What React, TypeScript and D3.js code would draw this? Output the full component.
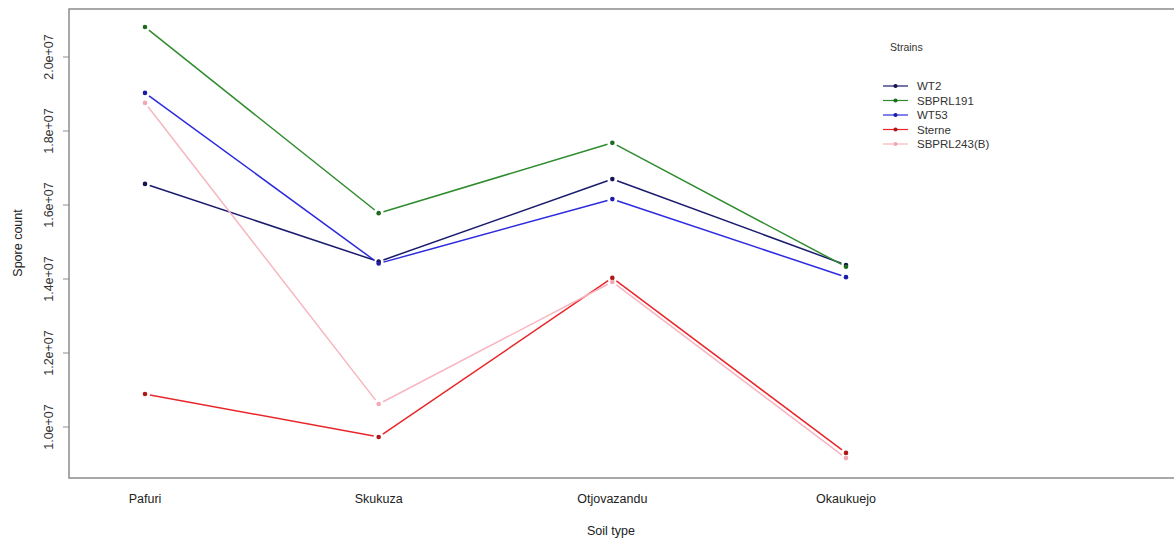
import React from "react";
import * as d3 from "d3";

const categories = ["Pafuri", "Skukuza", "Otjovazandu", "Okaukuejo"];
const strains = ["WT2", "SBPRL191", "WT53", "Sterne", "SBPRL243(B)"];
const wt2 = [1.657e7, 1.447e7, 1.670e7, 1.438e7];
const sbprl191 = [2.081e7, 1.578e7, 1.768e7, 1.433e7];
const wt53 = [1.903e7, 1.442e7, 1.616e7, 1.405e7];
const sterne = [1.089e7, 0.973e7, 1.403e7, 0.930e7];
const sbprl243 = [1.876e7, 1.062e7, 1.392e7, 0.916e7];
const seriesValues = [wt2, sbprl191, wt53, sterne, sbprl243];
const lineColors = ["#1a1a6e", "#2e8b2e", "#2b2bdd", "#e8262a", "#f7b6c0"];
const pointColors = ["#141450", "#1e6a1e", "#1c1caa", "#b01818", "#f0a8b4"];
const yTicks = [1.0e7, 1.2e7, 1.4e7, 1.6e7, 1.8e7, 2.0e7];

const W = 1174;
const H = 543;
const left = 69;
const top = 9;
const bottom = 478;
const right = 1190;
const font = "'Liberation Sans', Arial, sans-serif";

export default function App() {
  const x = d3.scalePoint<string>().domain(categories).range([145, 846]).padding(0);
  const y = d3.scaleLinear().domain([1e7, 2e7]).range([427, 57]);
  const fmt = (v: number) => (v / 1e7).toFixed(1) + "e+07";
  const gap = 5;

  const segs = (vals: number[]) => {
    const out: { x1: number; y1: number; x2: number; y2: number }[] = [];
    for (let i = 0; i < vals.length - 1; i++) {
      const ax = x(categories[i])!, ay = y(vals[i]);
      const bx = x(categories[i + 1])!, by = y(vals[i + 1]);
      const dx = bx - ax, dy = by - ay;
      const len = Math.hypot(dx, dy);
      const ux = dx / len, uy = dy / len;
      out.push({ x1: ax + ux * gap, y1: ay + uy * gap, x2: bx - ux * gap, y2: by - uy * gap });
    }
    return out;
  };

  return (
    <svg width={W} height={H} style={{ position: "absolute", left: 0, top: 0, background: "#fff" }}>
      <rect x={0} y={0} width={W} height={H} fill="#fff" />
      <rect x={left} y={top} width={right - left} height={bottom - top} fill="none" stroke="#8c8c8c" strokeWidth={1.5} />
      {yTicks.map((t) => (
        <g key={t}>
          <line x1={left - 6} x2={left} y1={y(t)} y2={y(t)} stroke="#8c8c8c" strokeWidth={1} />
          <text
            transform={`translate(${53},${y(t)}) rotate(-90)`}
            textAnchor="middle"
            fontFamily={font}
            fontSize={12.5}
            fill="#333"
          >
            {fmt(t)}
          </text>
        </g>
      ))}
      {categories.map((c) => (
        <text key={c} x={x(c)} y={503} textAnchor="middle" fontFamily={font} fontSize={12.5} fill="#222">
          {c}
        </text>
      ))}
      <text x={611} y={535} textAnchor="middle" fontFamily={font} fontSize={12.5} fill="#222">
        Soil type
      </text>
      <text transform={`translate(22,243) rotate(-90)`} textAnchor="middle" fontFamily={font} fontSize={12.5} fill="#222">
        Spore count
      </text>
      {seriesValues.map((vals, si) => (
        <g key={strains[si]}>
          {segs(vals).map((s, i) => (
            <line key={i} x1={s.x1} y1={s.y1} x2={s.x2} y2={s.y2} stroke={lineColors[si]} strokeWidth={1.5} />
          ))}
          {vals.map((v, i) => (
            <circle key={i} cx={x(categories[i])} cy={y(v)} r={2.3} fill={pointColors[si]} />
          ))}
        </g>
      ))}
      <text x={890} y={51} fontFamily={font} fontSize={10.5} fill="#333">
        Strains
      </text>
      {strains.map((s, i) => {
        const ly = 86 + i * 14.5;
        return (
          <g key={s}>
            <line x1={883} x2={908} y1={ly} y2={ly} stroke={lineColors[i]} strokeWidth={1.2} />
            <circle cx={895.5} cy={ly} r={2.1} fill={pointColors[i]} />
            <text x={917} y={ly + 4} fontFamily={font} fontSize={11.5} fill="#333">
              {s}
            </text>
          </g>
        );
      })}
    </svg>
  );
}
